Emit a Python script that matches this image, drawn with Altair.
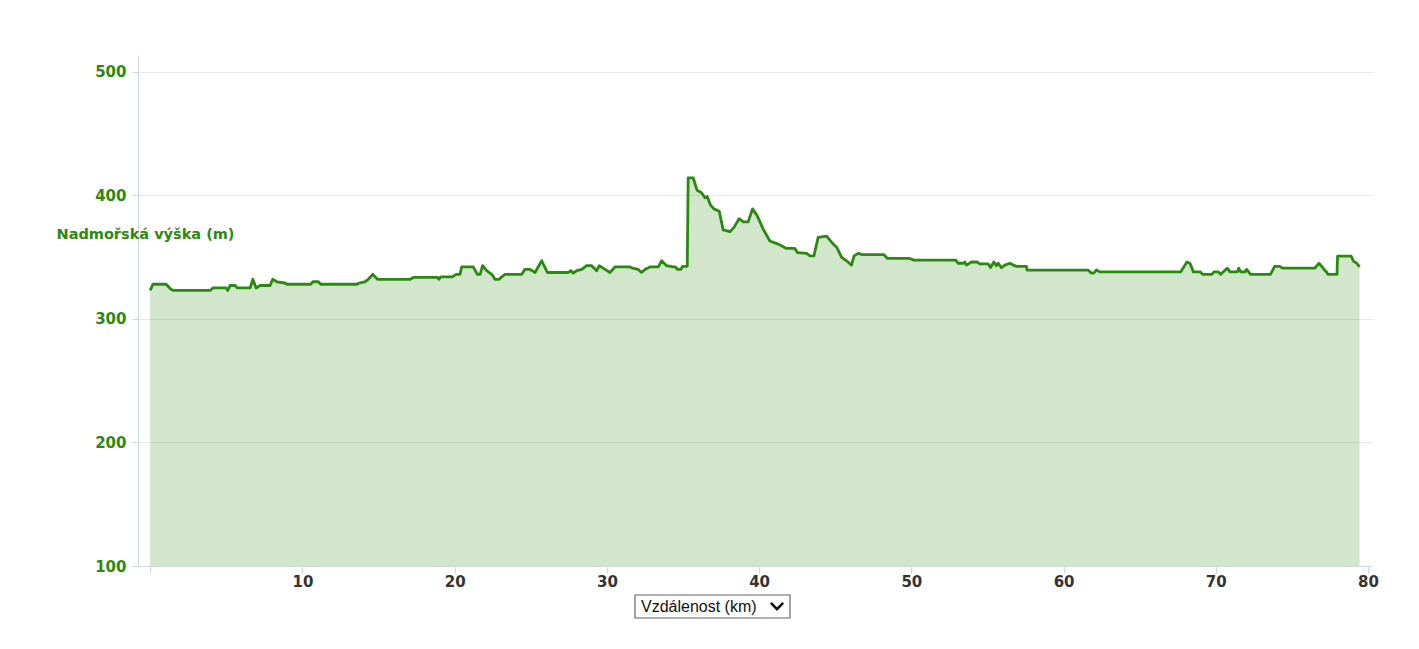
# Elevation profile (Altair) - Nadmořská výška vs Vzdálenost
import pandas as pd
import altair as alt

# ------------------------------------------------------------
# data: distance (km) and elevation (m)
# ------------------------------------------------------------
distance_km = [
    0, 0.18, 1.05, 1.36, 1.53, 3.94, 4.12, 4.99, 5.1, 5.25, 5.58, 5.73, 6.57, 6.74, 6.96,
    7.22, 7.88, 8.05, 8.32, 8.86, 8.97, 10.55, 10.68, 11.05, 11.2, 13.57, 13.74, 14.1,
    14.33, 14.62, 14.93, 17.07, 17.29, 18.89, 18.96, 19.09, 19.85, 20.1, 20.35, 20.46,
    21.22, 21.49, 21.67, 21.84, 22.1, 22.44, 22.65, 22.94, 23.09, 23.31, 24.4, 24.62,
    24.95, 25.28, 25.72, 26.09, 27.47, 27.62, 27.8, 28.02, 28.35, 28.67, 29.0, 29.33,
    29.5, 29.88, 30.2, 30.53, 31.52, 31.69, 32.06, 32.28, 32.5, 32.83, 33.38, 33.6,
    33.92, 34.36, 34.5, 34.63, 34.85, 34.98, 35.28, 35.34, 35.67, 35.93, 36.22, 36.44,
    36.59, 36.81, 37.03, 37.38, 37.64, 38.08, 38.35, 38.69, 38.96, 39.28, 39.57, 39.87,
    40.27, 40.71, 41.25, 41.8, 42.35, 42.53, 43.12, 43.34, 43.6, 43.88, 44.43, 44.87,
    45.09, 45.41, 45.74, 46.07, 46.24, 46.5, 46.79, 48.2, 48.41, 49.85, 50.16, 52.92,
    53.07, 53.45, 53.51, 53.62, 53.95, 54.32, 54.5, 55.04, 55.2, 55.42, 55.59, 55.7,
    55.92, 56.14, 56.47, 56.69, 56.91, 57.56, 57.6, 61.6, 61.83, 61.98, 62.16, 62.38,
    67.7, 68.1, 68.3, 68.53, 68.97, 69.14, 69.73, 69.88, 70.17, 70.32, 70.75, 70.93,
    71.41, 71.5, 71.63, 71.91, 72.02, 72.28, 73.59, 73.87, 74.2, 74.38, 76.5, 76.78,
    77.05, 77.15, 77.26, 77.37, 77.96, 78.0, 78.89, 79.05, 79.26, 79.44,
]
elevation_m = [
    323, 328, 328, 324, 323, 323, 325, 325, 323, 327, 327, 325, 325, 332, 325,
    327, 327, 332, 330, 329, 328, 328, 330, 330, 328, 328, 329, 330,
    332, 336, 332, 332, 333.5, 333.5, 332, 334, 334, 336, 336, 342,
    342, 336, 336, 343, 339, 336, 332, 332, 334, 336, 336, 340,
    340, 337.5, 347, 337.5, 337.5, 339, 337, 339, 340, 343, 343, 339,
    343, 340, 337.5, 342, 342, 341, 340, 337.5, 340, 342, 342, 347,
    343, 342, 342, 340, 340, 342.5, 342.5, 414, 414, 404, 402, 398,
    399, 392, 389, 387, 372, 370.5, 374, 381, 378.5, 378.5, 389, 383.5,
    372.5, 363, 360.5, 357, 357, 353.5, 353, 351, 351, 366, 367, 360.5,
    358, 350, 347, 343.5, 351, 353, 352, 352, 349, 349, 347.5, 347.5,
    345, 345, 346, 343.5, 346, 346, 344.5, 344.5, 341.5, 346, 343, 345,
    341.5, 343.5, 345, 343.5, 342.5, 342.5, 339.5, 339.5, 337, 337, 339.5, 338,
    338, 346, 345, 338, 338, 336, 336, 338, 338, 336, 341, 338,
    338, 341, 338, 338, 340, 336, 336, 342.5, 342.5, 341, 341, 345,
    341, 339.5, 338, 336, 336, 350.7, 350.7, 346.5, 345, 342,
]

x_ticks = [0, 10, 20, 30, 40, 50, 60, 70, 80]
y_ticks = [100, 200, 300, 400, 500]

y_title = "Nadmořská výška (m)"
x_selector = "Vzdálenost (km)"

df = pd.DataFrame({"km": distance_km, "elev": elevation_m})

GREEN = "#2a8a10"
FONT = "DejaVu Sans"

x_enc = alt.X(
    "km:Q",
    scale=alt.Scale(domain=[-0.8, 80.26], nice=False),
    axis=alt.Axis(
        values=x_ticks, labelExpr="datum.value == 0 ? '' : datum.label",
        title=None, grid=False, domainColor="#ccd6eb", tickColor="#ccd6eb",
        tickSize=7, labelColor="#333333", labelFont=FONT, labelFontSize=15,
        labelFontWeight="bold", labelPadding=1, labelFlush=False,
    ),
)
y_enc = alt.Y(
    "elev:Q",
    scale=alt.Scale(domain=[100, 513.5], nice=False, zero=False),
    axis=alt.Axis(
        values=y_ticks, title=y_title, titleAngle=0, titleX=7, titleY=179,
        titleAlign="center", titleBaseline="middle", titleColor=GREEN,
        titleFont=FONT, titleFontSize=14.5, titleFontWeight="bold",
        gridColor="#e8e8e8", domainColor="#ccd6eb", tickColor="#ccd6eb", tickSize=6,
        labelColor=GREEN, labelFont=FONT, labelFontSize=15, labelFontWeight="bold",
        labelPadding=6,
    ),
)

base = alt.Chart(df)

area = base.mark_area(color=GREEN, opacity=0.21).encode(
    x=x_enc, y=y_enc, y2=alt.datum(100)
)
line = base.mark_line(color=GREEN, strokeWidth=2.8, strokeJoin="round").encode(
    x="km:Q", y="elev:Q"
)

# drop-down look-alike under the x axis
ui = alt.Chart(pd.DataFrame({"label": [x_selector]}))
box = ui.mark_rect(fill="white", stroke="#666666", strokeWidth=1.2).encode(
    x=alt.value(497), x2=alt.value(652), y=alt.value(540), y2=alt.value(563)
)
box_text = ui.mark_text(
    align="left", baseline="middle", font="Liberation Sans", fontSize=16, color="#111111"
).encode(x=alt.value(503), y=alt.value(552), text="label:N")
chevron = ui.mark_point(
    shape="M-1,-0.5L0,0.5L1,-0.5", filled=False, size=150, strokeWidth=2.6,
    color="#111111", opacity=1,
).encode(x=alt.value(639), y=alt.value(551))

chart = alt.layer(area, line, box, box_text, chevron).properties(
    width=1234,
    height=511,
    autosize=alt.AutoSizeParams(type="none"),
    padding={"left": 130, "top": 47, "right": 39, "bottom": 60},
).configure_view(stroke=None)

chart.save("out.html", embed_options={"renderer": "svg", "actions": False})
